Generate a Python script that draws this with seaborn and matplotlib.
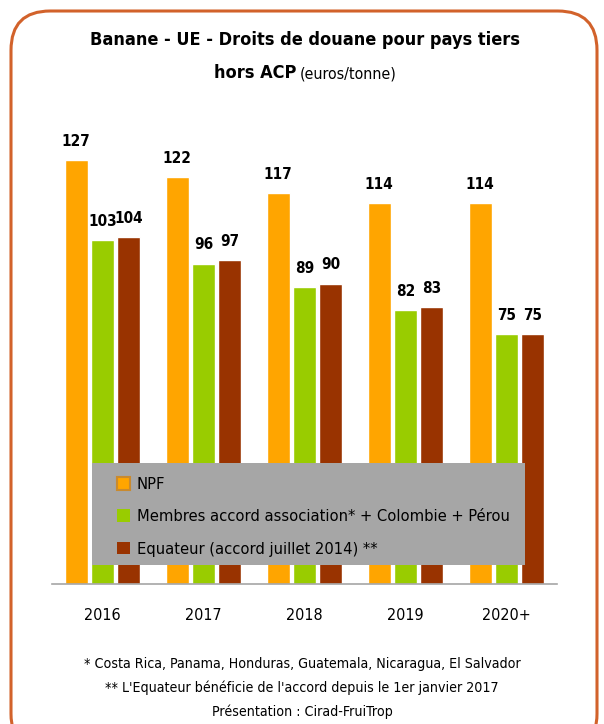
import pandas as pd
import matplotlib.pyplot as plt
import seaborn as sns
from matplotlib.patches import FancyBboxPatch, Rectangle
from matplotlib import font_manager

# ============================
# Data
# ============================

years = ["2016", "2017", "2018", "2019", "2020+"]
npf = [127, 122, 117, 114, 114]
membres = [103, 96, 89, 82, 75]
equateur = [104, 97, 90, 83, 75]

series_names = [
    "NPF",
    "Membres accord association* + Colombie + Pérou",
    "Equateur (accord juillet 2014) **",
]
colors = ["#FFA500", "#99CC00", "#993300"]

df = pd.DataFrame({
    "annee": years * 3,
    "valeur": npf + membres + equateur,
    "serie": [series_names[0]] * 5 + [series_names[1]] * 5 + [series_names[2]] * 5,
})

# ============================
# Font (condensed if available)
# ============================

sns.set_style("white")
condensed = any(
    f.name == "DejaVu Sans" and f.stretch == "condensed"
    for f in font_manager.fontManager.ttflist
)
plt.rcParams["font.family"] = ["DejaVu Sans"]
plt.rcParams["text.color"] = "black"
if condensed:
    plt.rcParams["font.stretch"] = "condensed"
    k = 1.0
else:
    k = 0.9

# ============================
# Figure
# ============================

fig = plt.figure(figsize=(6.04, 7.24), dpi=100)
ax = fig.add_axes([0.0861, 0.1934, 0.836, 0.627])

sns.barplot(
    data=df, x="annee", y="valeur", hue="serie",
    palette=colors, width=0.78, gap=0.12, saturation=1,
    ax=ax, legend=True,
)

ax.set_xlim(-0.5, 4.5)
ax.set_ylim(0, 136)
ax.set_xlabel("")
ax.set_ylabel("")
ax.set_yticks([])
ax.tick_params(axis="x", length=0, labelsize=11.5 * k, pad=17,
               colors="black", labelcolor="black")
for s in ["top", "left", "right"]:
    ax.spines[s].set_visible(False)
ax.spines["bottom"].set_color("#A6A6A6")
ax.spines["bottom"].set_linewidth(1.2)

for cont in ax.containers:
    ax.bar_label(cont, fontsize=11 * k, fontweight="bold", padding=8,
                 color="black")

# gray legend box
box = Rectangle((92 / 604, 1 - 565 / 724), 433 / 604, 102 / 724,
                transform=fig.transFigure, facecolor="#A6A6A6",
                edgecolor="none", zorder=4, clip_on=False)
ax.add_patch(box)

leg = ax.legend(
    loc="upper left", bbox_to_anchor=(104 / 604, 1 - 464 / 724),
    bbox_transform=fig.transFigure, fontsize=11.8 * k, frameon=False,
    handlelength=0.8, handleheight=0.8, handletextpad=0.4,
    labelspacing=1.05, borderpad=0.3,
)
leg.set_zorder(5)
for h in leg.legend_handles:
    h.set_edgecolor("none")
leg.legend_handles[0].set_edgecolor("#C98A2E")
leg.legend_handles[0].set_linewidth(1.5)

# ============================
# Titles & notes
# ============================

fig.text(0.505, 1 - 40 / 724, "Banane - UE - Droits de douane pour pays tiers",
         ha="center", va="center", fontsize=13 * k, fontweight="bold")
fig.text(296 / 604, 1 - 73 / 724, "hors ACP", ha="right", va="center",
         fontsize=13 * k, fontweight="bold")
fig.text(300 / 604, 1 - 74 / 724, "(euros/tonne)", ha="left", va="center",
         fontsize=11.4 * k)

notes = [
    "* Costa Rica, Panama, Honduras, Guatemala, Nicaragua, El Salvador",
    "** L'Equateur bénéficie de l'accord depuis le 1er janvier 2017",
    "Présentation : Cirad-FruiTrop",
]
for i, n in enumerate(notes):
    fig.text(0.5, 1 - (664 + 24 * i) / 724, n, ha="center", va="center",
             fontsize=10.2 * k)

# rounded orange frame
border = FancyBboxPatch(
    (11 / 604, -0.04), 586 / 604, 1 - 11 / 724 + 0.04,
    boxstyle="round,pad=0,rounding_size=0.065",
    transform=fig.transFigure, facecolor="none",
    edgecolor="#D2622B", linewidth=2.2, mutation_aspect=604 / 724,
)
fig.patches.append(border)

fig.savefig("out.png", dpi=100)
